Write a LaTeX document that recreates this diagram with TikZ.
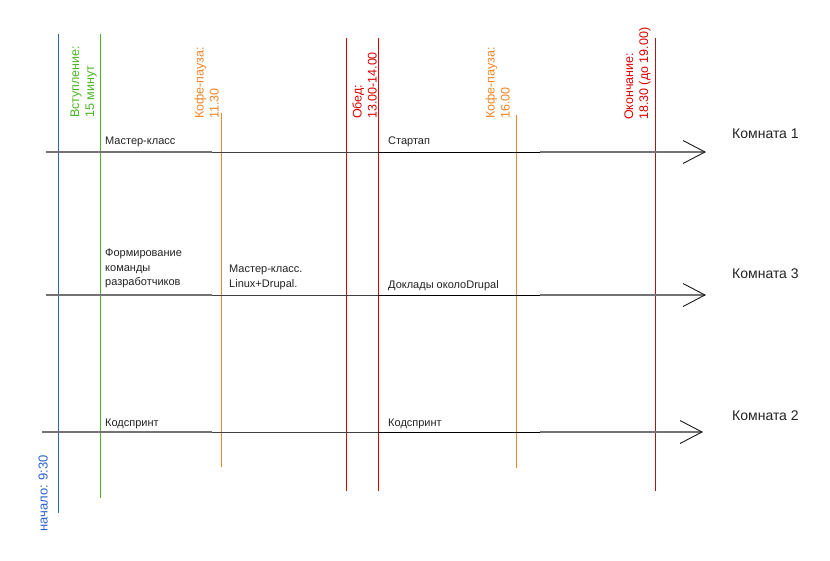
\documentclass[tikz,border=0pt]{standalone}
\usepackage{fontspec}
\setmainfont{Liberation Sans}
\definecolor{cblue}{HTML}{2A62D0}
\definecolor{cgreen}{HTML}{4BB521}
\definecolor{corange}{HTML}{F08526}
\definecolor{cred}{HTML}{E00000}
\definecolor{cdred}{HTML}{A81818}
\definecolor{ctext}{HTML}{222222}
\tikzset{
  vline/.style={line width=0.8pt},
  lbl/.style={inner sep=0pt, font=\fontsize{11}{14.3}\selectfont, text=ctext, align=left, anchor=base west},
  tlbl/.style={inner sep=0pt, font=\fontsize{12.5}{15}\selectfont, align=left, rotate=90, anchor=south west},
  room/.style={inner sep=0pt, font=\fontsize{14}{16}\selectfont, text=ctext, anchor=base west},
  seggray/.style={line width=1.4pt, draw=black!55},
  segdark/.style={line width=1pt, draw=black!75},
  segblack/.style={line width=0.8pt, draw=black},
  headline/.style={line width=0.9pt, draw=black!90},
}
\begin{document}
\begin{tikzpicture}[x=1pt,y=-1pt]
\useasboundingbox (0,0) rectangle (830,560);

% vertical time lines
\coordinate (b1) at (58,34);  \coordinate (b2) at (58,513);
\coordinate (g1) at (100,34); \coordinate (g2) at (100,498);
\coordinate (o1) at (221,113); \coordinate (o2) at (221,467);
\coordinate (r1) at (346,38); \coordinate (r2) at (346,491);
\coordinate (s1) at (378,38); \coordinate (s2) at (378,491);
\coordinate (p1) at (516,115); \coordinate (p2) at (516,468);
\coordinate (e1) at (655,38); \coordinate (e2) at (655,491);
\draw[vline, cblue] (b1) -- (b2);
\draw[vline, cgreen] (g1) -- (g2);
\draw[vline, corange] (o1) -- (o2);
\draw[vline, cred] (r1) -- (r2);
\draw[vline, cred] (s1) -- (s2);
\draw[vline, corange] (p1) -- (p2);
\draw[vline, cdred] (e1) -- (e2);

% labels of time lines
\node[tlbl, text=cgreen] (tg) at (97,118) {Вступление:\\15 минут};
\node[tlbl, text=corange] (to) at (219,119) {Кофе-пауза:\\11.30};
\node[tlbl, text=cred] (tr) at (377,119) {Обед:\\13.00-14.00};
\node[tlbl, text=corange] (tp) at (510,119) {Кофе-пауза:\\16.00};
\node[tlbl, text=cred] (te) at (651,120) {Окончание:\\18.30 (до 19.00)};
\node[tlbl, text=cblue, font=\fontsize{13}{15}\selectfont] (tb) at (48,532) {начало: 9:30};

% room arrows
\foreach \n/\y/\xs/\xe in {a/152/46/705, c/295/46/705, d/432/42/702} {
  \coordinate (\n0) at (\xs,\y);
  \coordinate (\n1) at (212,\y);
  \coordinate (\n2) at (378,\y);
  \coordinate (\n3) at (540,\y);
  \coordinate (\n4) at (\xe,\y);
  \coordinate (\n5) at (\xe-22,\y-11.5);
  \coordinate (\n6) at (\xe-22,\y+11.5);
  \draw[seggray] (\n0) -- (\n1);
  \draw[segdark] (\n1) -- (\n2);
  \draw[segblack] (\n2) -- (\n3);
  \draw[seggray] (\n3) -- (\n4);
  \draw[headline] (\n5) -- (\n4) -- (\n6);
}

% activity labels
\node[lbl] (m1) at (105,144) {Мастер-класс};
\node[lbl] (m2) at (388,144) {Стартап};
\node[lbl, anchor=north west] (m3) at (105,249) {Формирование\\команды\\разработчиков};
\node[lbl, anchor=north west] (m4) at (229,265) {Мастер-класс.\\Linux+Drupal.};
\node[lbl] (m5) at (388,288) {Доклады околоDrupal};
\node[lbl] (m6) at (105,426) {Кодспринт};
\node[lbl] (m7) at (388,426) {Кодспринт};

% rooms
\node[room] (k1) at (732,138) {Комната 1};
\node[room] (k3) at (732,278) {Комната 3};
\node[room] (k2) at (732,420) {Комната 2};
\end{tikzpicture}
\end{document}
